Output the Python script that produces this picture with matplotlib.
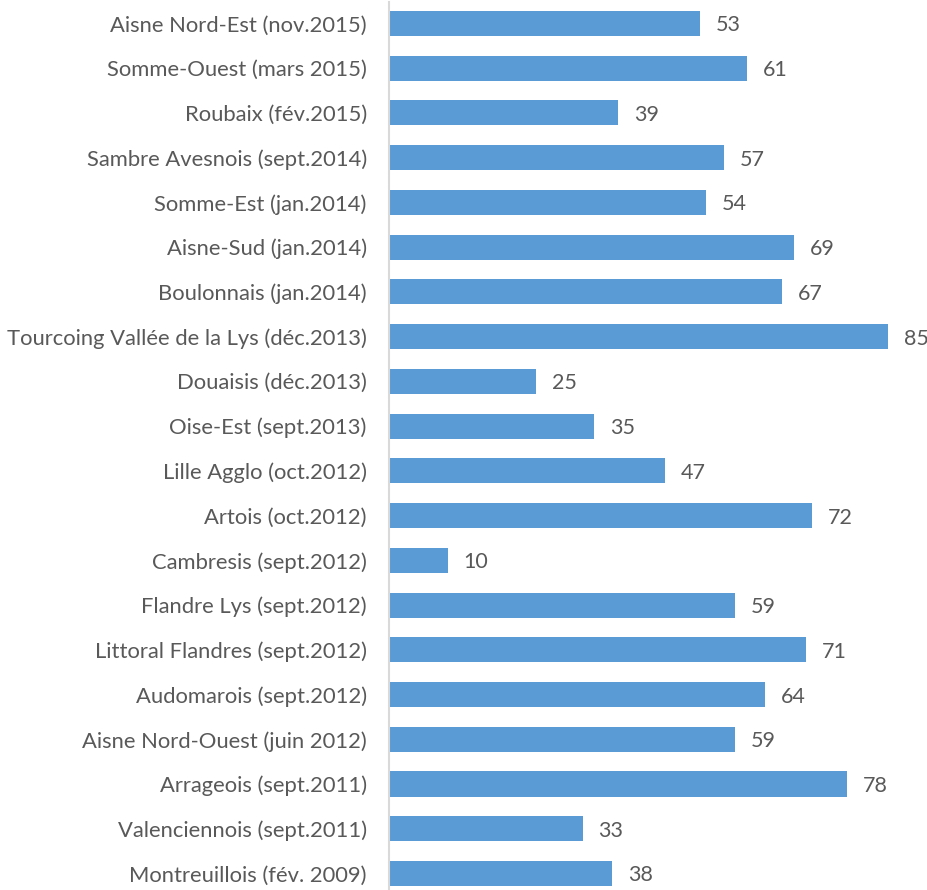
import numpy as np
import matplotlib.pyplot as plt

plt.rcParams['font.family'] = ['Lato', 'DejaVu Sans']

regions = [
    "Aisne Nord-Est (nov.2015)",
    "Somme-Ouest (mars 2015)",
    "Roubaix (fév.2015)",
    "Sambre Avesnois (sept.2014)",
    "Somme-Est (jan.2014)",
    "Aisne-Sud (jan.2014)",
    "Boulonnais (jan.2014)",
    "Tourcoing Vallée de la Lys (déc.2013)",
    "Douaisis (déc.2013)",
    "Oise-Est (sept.2013)",
    "Lille Agglo (oct.2012)",
    "Artois (oct.2012)",
    "Cambresis (sept.2012)",
    "Flandre Lys (sept.2012)",
    "Littoral Flandres (sept.2012)",
    "Audomarois (sept.2012)",
    "Aisne Nord-Ouest (juin 2012)",
    "Arrageois (sept.2011)",
    "Valenciennois (sept.2011)",
    "Montreuillois (fév. 2009)",
]
values = [53, 61, 39, 57, 54, 69, 67, 85, 25, 35, 47, 72, 10, 59, 71, 64, 59, 78, 33, 38]

bar_color = '#5B9BD5'
text_color = '#595959'

fig = plt.figure(figsize=(9.28, 8.9), dpi=100)
ax = fig.add_axes([389 / 928, 0, 1 - 389 / 928, 888 / 890])

y = np.arange(len(regions))
ax.barh(y, values, height=0.56, color=bar_color)

# value labels to the right of each bar
for yi, v in zip(y, values):
    ax.text(v + 2.7, yi, str(v), va='center_baseline', ha='left',
            fontsize=15.5, color=text_color)

ax.set_yticks(y)
ax.set_yticklabels(regions, fontsize=15.8, color=text_color)
ax.tick_params(axis='y', length=0, pad=16)
ax.set_xticks([])

ax.set_ylim(19.37, -0.48)
ax.set_xlim(0, 539 / (499 / 85))

for side in ['top', 'right', 'bottom']:
    ax.spines[side].set_visible(False)
ax.spines['left'].set_color('#D9D9D9')
ax.spines['left'].set_linewidth(1.5)

fig.savefig('out.png', dpi=100)
